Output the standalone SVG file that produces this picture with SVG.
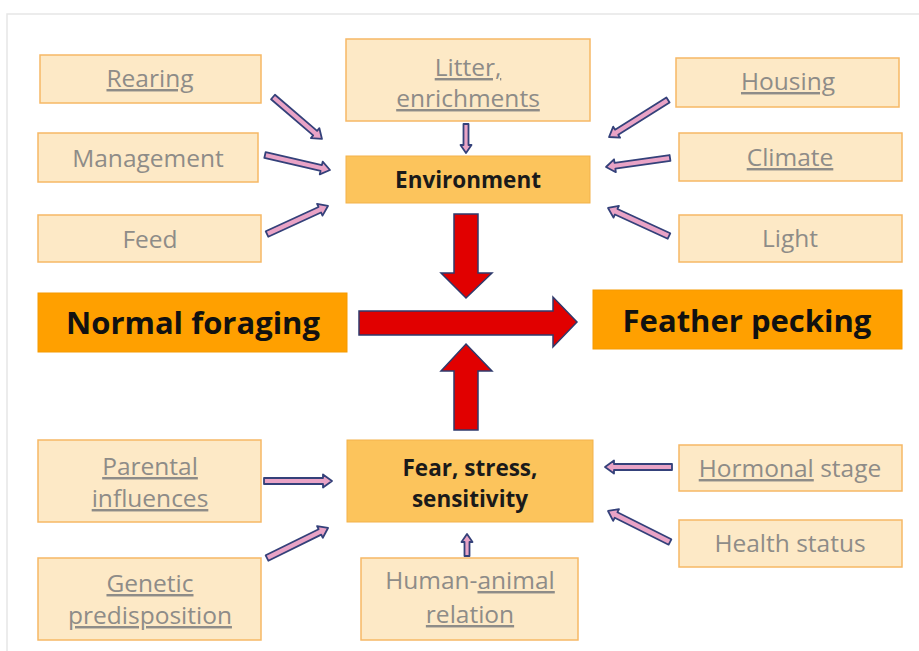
<svg xmlns="http://www.w3.org/2000/svg" width="919" height="651" viewBox="0 0 919 651">
<style>
.bg{fill:#ffffff}
.frame{fill:none;stroke:#e6e6e6;stroke-width:1.5}
.lb{fill:#fde9c6;stroke:#f6b865;stroke-width:1.5}
.mb{fill:#fcc45c;stroke:#f3b24a;stroke-width:1}
.ob{fill:#ffa000;stroke:#f59a00;stroke-width:1}
.lt{font-family:"Open Sans","Liberation Sans",sans-serif;font-size:24.5px;fill:#8e8c88;text-anchor:middle}
.mt{font-family:"Open Sans","Liberation Sans",sans-serif;font-size:22.5px;font-weight:bold;fill:#1a1a1a;text-anchor:middle}
.bt{font-family:"Open Sans","Liberation Sans",sans-serif;font-size:31px;font-weight:bold;fill:#111111;text-anchor:middle}
.u{text-decoration:underline}
.sa{fill:#e9a3c6;stroke:#34417a;stroke-width:1.8;stroke-linejoin:round}
.ra{fill:#e10000;stroke:#2f3a6c;stroke-width:1.5;stroke-linejoin:miter}
</style>
<rect class="bg" x="0" y="0" width="919" height="651"/>
<path class="frame" d="M7,651 V14 H919"/>

<g id="rearing"><rect class="lb" x="40" y="55" width="221" height="48"/><text class="lt" x="150" y="87"><tspan class="u">Rearing</tspan></text></g>
<g id="management"><rect class="lb" x="38" y="133" width="220" height="49"/><text class="lt" x="148" y="167">Management</text></g>
<g id="feed"><rect class="lb" x="38" y="215" width="223" height="47"/><text class="lt" x="150" y="248">Feed</text></g>
<g id="litter"><rect class="lb" x="346" y="39" width="244" height="82"/><text class="lt" x="468" y="76"><tspan class="u">Litter,</tspan></text><text class="lt" x="468" y="107"><tspan class="u">enrichments</tspan></text></g>
<g id="environment"><rect class="mb" x="346" y="156" width="244" height="47"/><text class="mt" x="468" y="188">Environment</text></g>
<g id="housing"><rect class="lb" x="676" y="58" width="223" height="49"/><text class="lt" x="788" y="90"><tspan class="u">Housing</tspan></text></g>
<g id="climate"><rect class="lb" x="679" y="133" width="223" height="48"/><text class="lt" x="790" y="166"><tspan class="u">Climate</tspan></text></g>
<g id="light"><rect class="lb" x="679" y="215" width="223" height="47"/><text class="lt" x="790" y="247">Light</text></g>
<g id="normal-foraging"><rect class="ob" x="38" y="293" width="309" height="59"/><text class="bt" x="193" y="334">Normal foraging</text></g>
<g id="feather-pecking"><rect class="ob" x="593" y="290" width="309" height="59"/><text class="bt" x="747" y="332">Feather pecking</text></g>
<g id="parental"><rect class="lb" x="38" y="440" width="223" height="82"/><text class="lt" x="150" y="475"><tspan class="u">Parental</tspan></text><text class="lt" x="150" y="507"><tspan class="u">influences</tspan></text></g>
<g id="genetic"><rect class="lb" x="38" y="558" width="223" height="82"/><text class="lt" x="150" y="592"><tspan class="u">Genetic</tspan></text><text class="lt" x="150" y="624"><tspan class="u">predisposition</tspan></text></g>
<g id="fear"><rect class="mb" x="347" y="440" width="246" height="82"/><text class="mt" x="470" y="476">Fear, stress,</text><text class="mt" x="470" y="507">sensitivity</text></g>
<g id="human-animal"><rect class="lb" x="361" y="558" width="217" height="82"/><text class="lt" x="470" y="589">Human-<tspan class="u">animal</tspan></text><text class="lt" x="470" y="623"><tspan class="u">relation</tspan></text></g>
<g id="hormonal"><rect class="lb" x="679" y="445" width="223" height="46"/><text class="lt" x="790" y="477"><tspan class="u">Hormonal</tspan> stage</text></g>
<g id="health"><rect class="lb" x="679" y="520" width="223" height="47"/><text class="lt" x="790" y="552">Health status</text></g>

<g id="connectors">
<polygon class="sa" transform="translate(273,97) rotate(40.6)" points="0,-3 55.5,-3 55.5,-6.5 64.5,0 55.5,6.5 55.5,3 0,3"/>
<polygon class="sa" transform="translate(265,155) rotate(13)" points="0,-3 57.7,-3 57.7,-6.5 66.7,0 57.7,6.5 57.7,3 0,3"/>
<polygon class="sa" transform="translate(267,234) rotate(-24.7)" points="0,-3 58.1,-3 58.1,-6.5 67.1,0 58.1,6.5 58.1,3 0,3"/>
<polygon class="sa" transform="translate(668,100) rotate(147.9)" points="0,-3 60.6,-3 60.6,-6.5 69.6,0 60.6,6.5 60.6,3 0,3"/>
<polygon class="sa" transform="translate(670,158) rotate(172)" points="0,-3 55.6,-3 55.6,-6.5 64.6,0 55.6,6.5 55.6,3 0,3"/>
<polygon class="sa" transform="translate(669,236) rotate(204.7)" points="0,-3 58.1,-3 58.1,-6.5 67.1,0 58.1,6.5 58.1,3 0,3"/>
<polygon class="sa" transform="translate(466,124) rotate(90)" points="0,-2.5 21,-2.5 21,-5.5 29,0 21,5.5 21,2.5 0,2.5"/>
<polygon class="sa" transform="translate(264,481)" points="0,-3 59,-3 59,-6.5 68,0 59,6.5 59,3 0,3"/>
<polygon class="sa" transform="translate(267,558) rotate(-26.2)" points="0,-3 59,-3 59,-6.5 68,0 59,6.5 59,3 0,3"/>
<polygon class="sa" transform="translate(467,556) rotate(-90)" points="0,-2.5 14,-2.5 14,-5.5 22,0 14,5.5 14,2.5 0,2.5"/>
<polygon class="sa" transform="translate(672,467) rotate(180)" points="0,-3 58,-3 58,-6.5 67,0 58,6.5 58,3 0,3"/>
<polygon class="sa" transform="translate(670,542) rotate(206.6)" points="0,-3 60.3,-3 60.3,-6.5 69.3,0 60.3,6.5 60.3,3 0,3"/>
<polygon class="ra" points="454,214 478,214 478,273 492,273 466,298 441,273 454,273"/>
<polygon class="ra" points="359,311 553,311 553,297 577,322 553,347 553,335 359,335"/>
<polygon class="ra" points="466,344 492,371 478,371 478,430 454,430 454,371 441,371"/>
</g>
</svg>
